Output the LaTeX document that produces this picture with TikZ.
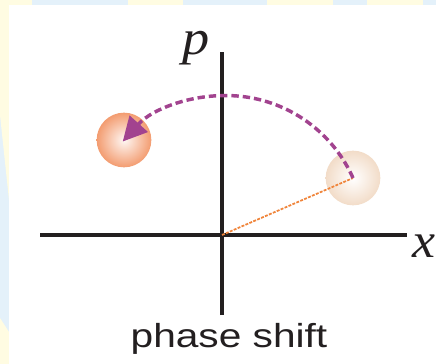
\documentclass[tikz,border=0pt]{standalone}
\usepackage{fontspec}
\setmainfont{Liberation Serif}
\newfontfamily\labsans{Liberation Sans}
\usetikzlibrary{arrows.meta}
\definecolor{axisc}{HTML}{231F20}
\definecolor{bgblue}{HTML}{E4F1FA}
\definecolor{bgyellow}{HTML}{FFFCE2}
\definecolor{arcc}{HTML}{A2438F}
\definecolor{rayc}{HTML}{F0843A}
\definecolor{ballc}{HTML}{F39C70}
\definecolor{ghostc}{HTML}{F2DCC8}
\tikzset{
  axis/.style={draw=axisc, line width=3.4pt},
  ball/.style={circle, minimum size=41pt, inner sep=0pt},
  ray/.style={draw=rayc, line width=1.3pt, dash pattern=on 2.2pt off 1pt},
  turn/.style={draw=arcc, line width=2.6pt, dash pattern=on 5.5pt off 3pt,
    -{Triangle[length=18pt,width=18pt]}},
  lab/.style={text=axisc, inner sep=0pt},
}
\begin{document}
\begin{tikzpicture}[x=0.75pt,y=-0.75pt]
\useasboundingbox (0,0) rectangle (436,364);
% background strips
\fill[bgblue] (0,0) rectangle (436,364);
\fill[bgyellow] (0,0) rectangle (32,6);
\fill[bgyellow] (128,0) rectangle (183,6);
\fill[bgyellow] (267,0) rectangle (333,6);
\fill[bgyellow] (367,0) rectangle (423,6);
\fill[bgyellow] (0,0) -- (9,0) -- (9,200) -- (0,115) -- cycle;
\fill[bgyellow] (0,318) -- (9,332) -- (9,364) -- (0,364) -- cycle;
\fill[white] (9,5) rectangle (436,364);
% coordinates
\coordinate (O) at (222,235);
\coordinate (xl) at (40,235);
\coordinate (xr) at (407,235);
\coordinate (pt) at (222,52);
\coordinate (pb) at (222,315);
% balls
\node[ball, inner color=white, outer color=ghostc] (start) at (353,178) {};
\node[ball, inner color=ballc!8, outer color=ballc] (end) at (124,140) {};
% axes
\draw[axis] (xl) -- (xr);
\draw[axis] (pb) -- (pt);
% labels
\node[lab, anchor=base, font=\itshape\fontsize{37}{40}\selectfont, xscale=1.1] (plab) at (196,54) {p};
\node[lab, anchor=base west, font=\itshape\fontsize{37}{40}\selectfont, xscale=1.05] (xlab) at (412,257) {x};
\node[lab, anchor=base, font=\labsans\fontsize{25}{30}\selectfont, xscale=1.22] (cap) at (229,347) {phase shift};
% ray and rotation
\draw[ray] (O) -- (start.center);
\draw[turn] (start.center) arc[start angle=-24, end angle=-138, radius=139];
\end{tikzpicture}
\end{document}
